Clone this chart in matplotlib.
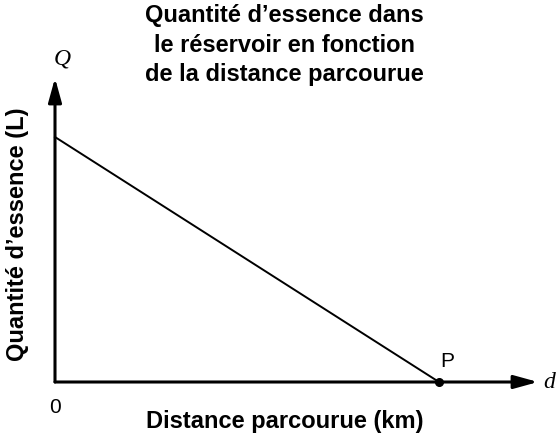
import matplotlib
matplotlib.use("Agg")
import matplotlib.pyplot as plt

# data (arbitrary units: full tank at d=0, empty at point P)
distance = [0.0, 1.0]
quantity = [1.0, 0.0]
point_p = (1.0, 0.0)

title = "Quantité d\u2019essence dans\nle réservoir en fonction\nde la distance parcourue"
xlabel = "Distance parcourue (km)"
ylabel = "Quantité d\u2019essence (L)"

W, H = 557, 440
fig = plt.figure(figsize=(W / 100, H / 100), dpi=100)
# axes box in pixels: origin (55, 382), top arrow at y=78, right arrow at x=538
x0, y0, x1, y1 = 55, 382, 538, 78
ax = fig.add_axes([x0 / W, 1 - y0 / H, (x1 - x0) / W, (y0 - y1) / H])
xmax = (x1 - x0) / (439 - x0)
ymax = (y0 - y1) / (y0 - 137)
ax.set_xlim(0, xmax)
ax.set_ylim(0, ymax)
ax.axis("off")

sans = "Liberation Sans"
serif = "Liberation Serif"

# axes with arrows
arrow = dict(arrowstyle="-|>,head_length=1.45,head_width=0.4", lw=2.2, color="black",
             mutation_scale=10, shrinkA=0, shrinkB=0)
ax.annotate("", xy=(xmax, 0), xytext=(0, 0), arrowprops=arrow, annotation_clip=False)
ax.annotate("", xy=(0, ymax), xytext=(0, 0), arrowprops=arrow, annotation_clip=False)

ax.plot(distance, quantity, color="black", lw=1.4, clip_on=False)
ax.plot(*point_p, "o", color="black", ms=5.5, clip_on=False, zorder=5)

ax.text(point_p[0] + 0.002, point_p[1] + 0.045, "P", fontsize=15, family=sans,
        ha="left", va="bottom")
ax.text(0, -0.065, "0", fontsize=15, family=sans, ha="center", va="top")
ax.text(0.02, ymax + 0.035, "Q", fontsize=17, family=serif, style="italic",
        ha="center", va="bottom")
ax.text(xmax + 0.015, 0, "d", fontsize=17, family=serif, style="italic",
        ha="left", va="center")

fig.text(284 / W, 1 - 45 / H, title, fontsize=17, family=sans, weight="bold",
         ha="center", va="center", linespacing=1.35)
fig.text(285 / W, 1 - 421 / H, xlabel, fontsize=17, family=sans, weight="bold",
         ha="center", va="center")
fig.text(18 / W, 1 - 234 / H, ylabel, fontsize=17, family=sans, weight="bold",
         ha="center", va="center", rotation=90)

fig.savefig("out.png", dpi=100)
